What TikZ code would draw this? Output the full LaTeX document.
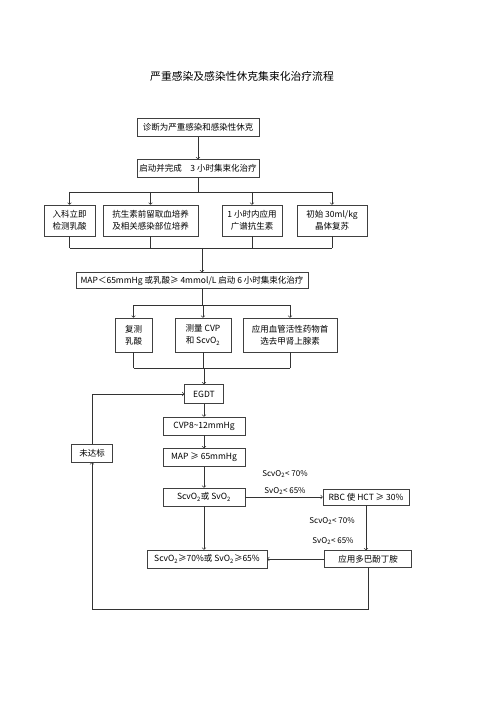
\documentclass[tikz,border=0pt]{standalone}
\usepackage{fontspec}
\setmainfont{Noto Sans CJK SC}
\usetikzlibrary{positioning}

\begin{document}
\begin{tikzpicture}[x=1pt, y=-1pt, line width=0.6pt, draw=black!80,
    every node/.style={font=\fontsize{8.5}{12}\selectfont, align=center, inner sep=0pt},
    caja/.style={draw=black!75, minimum height=18pt},
    fila/.style={caja, minimum height=31pt},
    etiq/.style={font=\fontsize{8}{10}\selectfont}]
  \useasboundingbox (0,0) rectangle (500,708);

  % Cajas
  \node[font=\fontsize{10.8}{13}\selectfont] (titulo) at (242,76) {严重感染及感染性休克集束化治疗流程};
  \node[caja, minimum width=122pt] (diag) at (198,127.5) {诊断为严重感染和感染性休克};
  \node[caja, minimum width=122pt] (tres) at (198,168.5) {启动并完成\quad 3 小时集束化治疗};

  \node[fila, minimum width=51pt] (ingreso) at (69.5,220.5) {入科立即\\检测乳酸};
  \node[fila, minimum width=95pt] (cultivo) at (150.5,220.5) {抗生素前留取血培养\\及相关感染部位培养};
  \node[fila, minimum width=60pt] (antib) at (252,220.5) {1 小时内应用\\广谱抗生素};
  \node[fila, minimum width=70pt] (cristal) at (332,220.5) {初始 30ml/kg\\晶体复苏};

  \node[caja, minimum width=232pt, minimum height=16pt] (seis) at (192,280.5) {MAP＜65mmHg 或乳酸≥ 4mmol/L 启动 6 小时集束化治疗};

  \node[caja, minimum width=37pt, minimum height=34pt] (relac) at (133.5,335) {复测\\乳酸};
  \node[caja, minimum width=56pt, minimum height=34pt] (medir) at (203,335) {测量 CVP\\和 ScvO\textsubscript{2}};
  \node[caja, minimum width=94pt, minimum height=34pt] (vaso) at (290,335) {应用血管活性药物首\\选去甲肾上腺素};

  \node[caja, minimum width=39pt, minimum height=19pt] (egdt) at (204,394) {EGDT};
  \node[caja, minimum width=82pt] (cvp) at (204,426) {CVP8\textasciitilde12mmHg};
  \node[caja, minimum width=82pt] (map) at (204,457.5) {MAP ≥ 65mmHg};
  \node[caja, minimum width=82pt] (svo) at (204,497) {ScvO\textsubscript{2}或 SvO\textsubscript{2}};
  \node[caja, minimum width=120pt] (meta) at (207,559) {ScvO\textsubscript{2}≥70\%或 SvO\textsubscript{2}≥65\%};
  \node[caja, minimum width=86pt, minimum height=16pt] (rbc) at (366,497) {RBC 使 HCT ≥ 30\%};
  \node[caja, minimum width=87pt, minimum height=17pt] (dobu) at (368,559) {应用多巴酚丁胺};
  \node[caja, minimum width=41pt] (noalc) at (92,453) {未达标};

  \node[etiq] (l1) at (285,474) {ScvO\textsubscript{2}< 70\%};
  \node[etiq] (l2) at (285,491) {SvO\textsubscript{2}< 65\%};
  \node[etiq] (l3) at (332,521) {ScvO\textsubscript{2}< 70\%};
  \node[etiq] (l4) at (333,541) {SvO\textsubscript{2}< 65\%};

  \coordinate (b1) at (198,192);
  \coordinate (b2) at (202,248);
  \coordinate (b3) at (202,305);
  \coordinate (b4) at (204,368);
  \coordinate (lazo) at (92,609);

  % Flechas
  \draw[->] (diag) -- (tres);
  \draw (tres) -- (b1);
  \draw (ingreso.north |- b1) -- (cristal.north |- b1);
  \foreach \n in {ingreso,cultivo,antib,cristal}
    \draw[->] (\n.north |- b1) -- (\n);
  \foreach \n in {ingreso,cultivo,antib,cristal}
    \draw (\n) -- (\n.south |- b2);
  \draw (ingreso.south |- b2) -- (cristal.south |- b2);
  \draw[->] (b2) -- (b2 |- seis.north);

  \draw (b3 |- seis.south) -- (b3);
  \draw (relac.north |- b3) -- (vaso.north |- b3);
  \foreach \n in {relac,medir,vaso}
    \draw[->] (\n.north |- b3) -- (\n);
  \foreach \n in {relac,medir,vaso}
    \draw (\n) -- (\n.south |- b4);
  \draw (relac.south |- b4) -- (vaso.south |- b4);
  \draw[->] (b4) -- (egdt);

  \draw[->] (egdt) -- (cvp);
  \draw[->] (cvp) -- (map);
  \draw[->] (map) -- (svo);
  \draw[->] (svo) -- (svo |- meta.north);
  \draw[->] (svo) -- (rbc);
  \draw[->] (rbc) -- (rbc |- dobu.north);
  \draw[->] (dobu) -- (meta);
  \draw[->] (dobu.south) |- (lazo) -- (noalc);
  \draw[->] (noalc) |- (egdt);
\end{tikzpicture}
\end{document}
